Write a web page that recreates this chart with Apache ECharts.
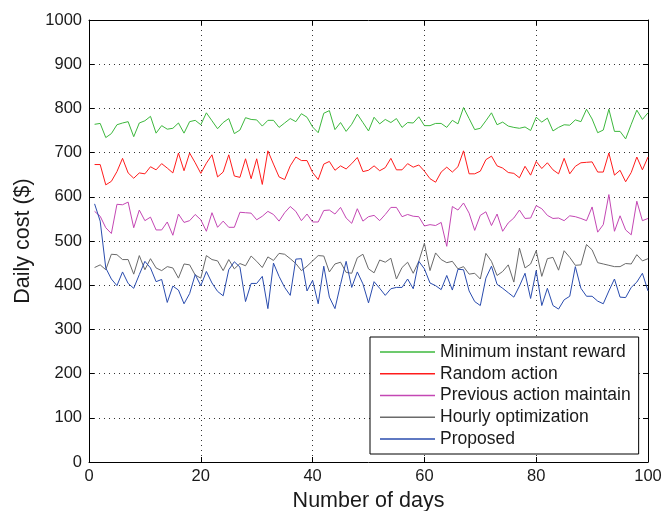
<!DOCTYPE html>
<html><head><meta charset="utf-8">
<script src="https://cdn.jsdelivr.net/npm/echarts@6/dist/echarts.min.js"></script>
<style>html,body{margin:0;padding:0;background:#fff}#c{width:662px;height:511px}</style>
</head><body><div id="c"></div>
<script>
// Day index (x values)
const days = Array.from({length: 100}, (_, i) => i + 1);

const seriesNames = ['Minimum instant reward', 'Random action', 'Previous action maintain', 'Hourly optimization', 'Proposed'];

const minInstantReward = [
  764, 766, 734, 743, 763, 767, 770, 736, 767, 772, 782, 744, 761, 753, 755, 767, 744, 770, 773, 763, 790, 772, 754, 768, 777,
  743, 751, 779, 775, 774, 760, 773, 773, 757, 767, 777, 770, 788, 780, 758, 745, 789, 795, 752, 768, 748, 764, 787, 768, 749,
  780, 765, 775, 768, 777, 757, 768, 767, 781, 761, 761, 766, 766, 757, 773, 765, 802, 777, 752, 755, 772, 790, 763, 769, 760,
  757, 755, 758, 750, 780, 769, 778, 749, 757, 763, 762, 774, 770, 798, 776, 745, 751, 798, 748, 748, 731, 764, 796, 775, 790
];
const randomAction = [
  673, 673, 627, 635, 657, 687, 654, 642, 654, 652, 668, 661, 675, 665, 654, 699, 659, 699, 677, 653, 676, 695, 645, 656, 695,
  647, 644, 686, 641, 686, 628, 704, 674, 645, 639, 670, 690, 682, 682, 655, 639, 674, 680, 660, 670, 663, 675, 689, 657, 660,
  670, 659, 666, 687, 661, 661, 675, 667, 672, 658, 641, 633, 656, 667, 656, 668, 704, 652, 652, 658, 684, 692, 670, 665, 655,
  653, 643, 669, 649, 680, 664, 677, 661, 652, 687, 652, 669, 677, 678, 679, 656, 656, 699, 649, 660, 634, 655, 690, 661, 690
];
const previousActionMaintain = [
  567, 556, 530, 517, 583, 582, 588, 530, 570, 546, 554, 525, 525, 543, 513, 561, 542, 546, 560, 548, 522, 564, 531, 545, 531,
  531, 565, 564, 563, 548, 556, 567, 560, 545, 564, 578, 567, 546, 561, 543, 543, 569, 570, 561, 576, 552, 540, 573, 545, 555,
  558, 546, 560, 576, 576, 555, 560, 556, 555, 534, 537, 535, 542, 488, 578, 570, 586, 563, 524, 558, 566, 535, 561, 522, 541,
  552, 570, 551, 552, 580, 573, 558, 551, 552, 546, 557, 555, 551, 546, 577, 520, 537, 605, 522, 557, 525, 514, 590, 546, 551
];
const hourlyOptimization = [
  440, 446, 435, 470, 469, 458, 458, 425, 467, 435, 460, 439, 433, 442, 439, 416, 448, 446, 423, 416, 467, 458, 455, 433, 458,
  437, 449, 444, 466, 454, 440, 464, 456, 472, 470, 460, 449, 433, 443, 455, 467, 466, 430, 448, 452, 429, 427, 462, 470, 437,
  428, 457, 452, 461, 414, 440, 452, 427, 454, 495, 433, 473, 458, 451, 454, 437, 442, 425, 427, 414, 472, 454, 422, 431, 446,
  407, 484, 439, 448, 478, 420, 460, 463, 434, 478, 463, 445, 446, 492, 480, 451, 448, 445, 442, 442, 449, 448, 469, 455, 460
];
const proposed = [
  584, 545, 439, 414, 399, 430, 404, 393, 424, 454, 439, 408, 413, 361, 398, 389, 358, 381, 424, 399, 431, 405, 386, 376, 435,
  453, 441, 363, 404, 404, 420, 347, 450, 420, 395, 377, 459, 460, 387, 411, 358, 443, 373, 347, 402, 454, 395, 430, 403, 360,
  408, 393, 377, 392, 395, 395, 414, 392, 454, 437, 405, 399, 390, 422, 389, 436, 435, 387, 363, 354, 416, 443, 402, 393, 383,
  373, 398, 427, 370, 433, 354, 393, 354, 346, 367, 375, 442, 393, 375, 375, 364, 358, 387, 414, 373, 372, 395, 407, 427, 387
];

const allValues = [minInstantReward, randomAction, previousActionMaintain, hourlyOptimization, proposed];
const colors = ['#3db83d', '#ff1c1c', '#c447b4', '#6a6a6a', '#2a4cae'];

const FONT = "'Liberation Sans', Arial, Helvetica, sans-serif";
const TXT = '#1a1a1a';

const chart = echarts.init(document.getElementById('c'), null, {renderer: 'canvas'});

const frameAxis = (pos) => ({
  type: 'value', min: 0, position: pos,
  axisLine: {show: true, onZero: false, lineStyle: {color: '#000', width: 1}},
  axisTick: {show: true, inside: true, length: 5, lineStyle: {color: '#000', width: 1}},
  axisLabel: {show: false},
  splitLine: {show: false}
});

const option = {
  animation: false,
  backgroundColor: '#fff',
  color: colors,
  grid: {left: 89, right: 14, top: 20, bottom: 49, containLabel: false, outerBoundsMode: 'none'},
  xAxis: [
    {
      type: 'value', min: 0, max: 100, interval: 20, position: 'bottom',
      axisLine: {show: true, onZero: false, lineStyle: {color: '#000', width: 1}},
      axisTick: {show: true, inside: true, length: 5, lineStyle: {color: '#000', width: 1}},
      axisLabel: {color: TXT, fontSize: 16.5, fontFamily: FONT, margin: 6, formatter: (v) => String(v)},
      splitLine: {show: true, lineStyle: {color: '#333', type: [1, 4], width: 1}},
      name: 'Number of days', nameLocation: 'middle', nameGap: 18,
      nameTextStyle: {color: TXT, fontSize: 21.5, fontFamily: FONT, verticalAlign: 'top'}
    },
    Object.assign(frameAxis('top'), {max: 100, interval: 20})
  ],
  yAxis: [
    {
      type: 'value', min: 0, max: 1000, interval: 100, position: 'left',
      axisLine: {show: true, onZero: false, lineStyle: {color: '#000', width: 1}},
      axisTick: {show: true, inside: true, length: 5, lineStyle: {color: '#000', width: 1}},
      axisLabel: {color: TXT, fontSize: 16.5, fontFamily: FONT, margin: 7, formatter: (v) => String(v)},
      splitLine: {show: true, lineStyle: {color: '#333', type: [1, 4], width: 1}},
      name: 'Daily cost ($)', nameLocation: 'middle', nameGap: 36, nameRotate: 90,
      nameTextStyle: {color: TXT, fontSize: 21.5, fontFamily: FONT}
    },
    Object.assign(frameAxis('right'), {max: 1000, interval: 100})
  ],
  legend: {
    data: seriesNames.map((n, k) => ({name: n, icon: 'rect', itemStyle: {color: colors[k], borderWidth: 0, opacity: 1}})),
    orient: 'vertical',
    left: 370, top: 337,
    itemWidth: 55, itemHeight: 1.5, itemGap: 3.75,
    padding: [6, 8, 6, 10],
    borderColor: '#000', borderWidth: 1, backgroundColor: '#fff',
    textStyle: {color: TXT, fontSize: 17.5, fontFamily: FONT}
  },
  series: seriesNames.map((name, k) => ({
    name: name,
    type: 'line',
    xAxisIndex: 0, yAxisIndex: 0,
    symbol: 'none',
    lineStyle: {width: 1, color: colors[k]},
    itemStyle: {color: colors[k]},
    data: days.map((d, i) => [d, allValues[k][i]])
  }))
};

chart.setOption(option);
</script>
</body></html>
